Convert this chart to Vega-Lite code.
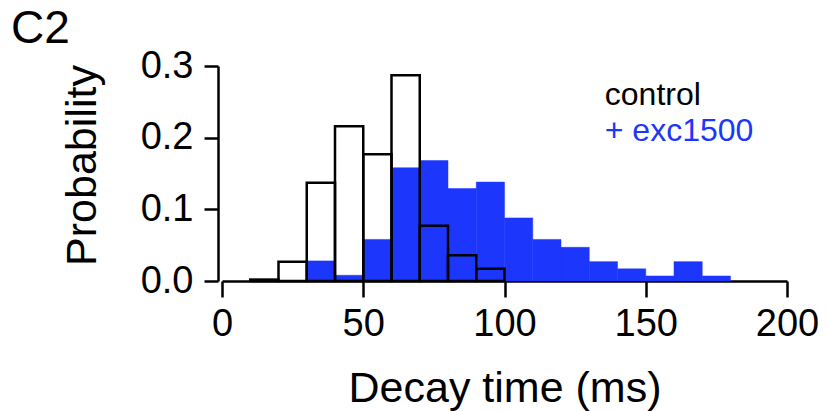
{
  "$schema": "https://vega.github.io/schema/vega-lite/v6.json",
  "width": 565,
  "height": 215,
  "autosize": {"type": "none"},
  "padding": {"left": 222, "top": 66, "right": 42, "bottom": 130},
  "background": "white",
  "config": {
    "view": {"stroke": null},
    "font": "Liberation Sans",
    "axis": {
      "domainColor": "black", "domainWidth": 2.5, "tickColor": "black", "tickWidth": 2.5,
      "grid": false, "labelFont": "Liberation Sans", "labelFontSize": 38, "labelColor": "black",
      "titleFont": "Liberation Sans", "titleFontSize": 43, "titleFontWeight": "normal", "titleColor": "black"
    }
  },
  "title": {"text": "C2", "anchor": "start", "frame": "group", "fontSize": 46, "fontWeight": "normal", "font": "Liberation Sans", "dx": -211, "dy": 5, "offset": -1, "color": "black"},
  "datasets": {
    "hist": [
      {"bin_start": 30, "bin_end": 40, "group": "exc1500", "prob": 0.028},
      {"bin_start": 40, "bin_end": 50, "group": "exc1500", "prob": 0.008},
      {"bin_start": 50, "bin_end": 60, "group": "exc1500", "prob": 0.058},
      {"bin_start": 60, "bin_end": 70, "group": "exc1500", "prob": 0.158},
      {"bin_start": 70, "bin_end": 80, "group": "exc1500", "prob": 0.168},
      {"bin_start": 80, "bin_end": 90, "group": "exc1500", "prob": 0.129},
      {"bin_start": 90, "bin_end": 100, "group": "exc1500", "prob": 0.138},
      {"bin_start": 100, "bin_end": 110, "group": "exc1500", "prob": 0.088},
      {"bin_start": 110, "bin_end": 120, "group": "exc1500", "prob": 0.058},
      {"bin_start": 120, "bin_end": 130, "group": "exc1500", "prob": 0.047},
      {"bin_start": 130, "bin_end": 140, "group": "exc1500", "prob": 0.027},
      {"bin_start": 140, "bin_end": 150, "group": "exc1500", "prob": 0.017},
      {"bin_start": 150, "bin_end": 160, "group": "exc1500", "prob": 0.007},
      {"bin_start": 160, "bin_end": 170, "group": "exc1500", "prob": 0.027},
      {"bin_start": 170, "bin_end": 180, "group": "exc1500", "prob": 0.007},
      {"bin_start": 10, "bin_end": 20, "group": "control", "prob": 0.002},
      {"bin_start": 20, "bin_end": 30, "group": "control", "prob": 0.027},
      {"bin_start": 30, "bin_end": 40, "group": "control", "prob": 0.137},
      {"bin_start": 40, "bin_end": 50, "group": "control", "prob": 0.216},
      {"bin_start": 50, "bin_end": 60, "group": "control", "prob": 0.177},
      {"bin_start": 60, "bin_end": 70, "group": "control", "prob": 0.287},
      {"bin_start": 70, "bin_end": 80, "group": "control", "prob": 0.077},
      {"bin_start": 80, "bin_end": 90, "group": "control", "prob": 0.036},
      {"bin_start": 90, "bin_end": 100, "group": "control", "prob": 0.017}
    ]
  },
  "layer": [
    {
      "data": {"name": "hist"},
      "transform": [{"filter": "datum.group === 'exc1500'"}],
      "mark": {"type": "bar", "fill": "#1c36fc", "stroke": "#1c36fc", "strokeWidth": 0.5},
      "encoding": {
        "x": {"field": "bin_start", "type": "quantitative", "scale": {"domain": [0, 200], "nice": false},
          "axis": {"values": [0, 50, 100, 150, 200], "format": "d", "tickSize": 16, "labelPadding": 8, "labelFlush": false, "title": "Decay time (ms)", "titlePadding": 24}},
        "x2": {"field": "bin_end"},
        "y": {"field": "prob", "type": "quantitative", "scale": {"domain": [0, 0.3], "nice": false},
          "axis": {"values": [0, 0.1, 0.2, 0.3], "format": ".1f", "tickSize": 14, "offset": 4, "labelPadding": 11, "title": "Probability", "titlePadding": 36, "titleY": 99}},
        "y2": {"datum": 0}
      }
    },
    {
      "data": {"name": "hist"},
      "transform": [{"filter": "datum.group === 'control'"}],
      "mark": {"type": "bar", "fillOpacity": 0, "fill": "white", "stroke": "black", "strokeWidth": 2.5},
      "encoding": {
        "x": {"field": "bin_start", "type": "quantitative"},
        "x2": {"field": "bin_end"},
        "y": {"field": "prob", "type": "quantitative"},
        "y2": {"datum": 0}
      }
    },
    {
      "data": {"values": [{"label": "control"}]},
      "mark": {"type": "text", "align": "left", "baseline": "alphabetic", "fontSize": 32, "font": "Liberation Sans", "color": "black"},
      "encoding": {
        "x": {"datum": 135.5, "type": "quantitative"},
        "y": {"datum": 0.246, "type": "quantitative"},
        "text": {"field": "label"}
      }
    },
    {
      "data": {"values": [{"label": "+ exc1500"}]},
      "mark": {"type": "text", "align": "left", "baseline": "alphabetic", "fontSize": 32, "font": "Liberation Sans", "color": "#1c36fc"},
      "encoding": {
        "x": {"datum": 135.5, "type": "quantitative"},
        "y": {"datum": 0.195, "type": "quantitative"},
        "text": {"field": "label"}
      }
    }
  ]
}
